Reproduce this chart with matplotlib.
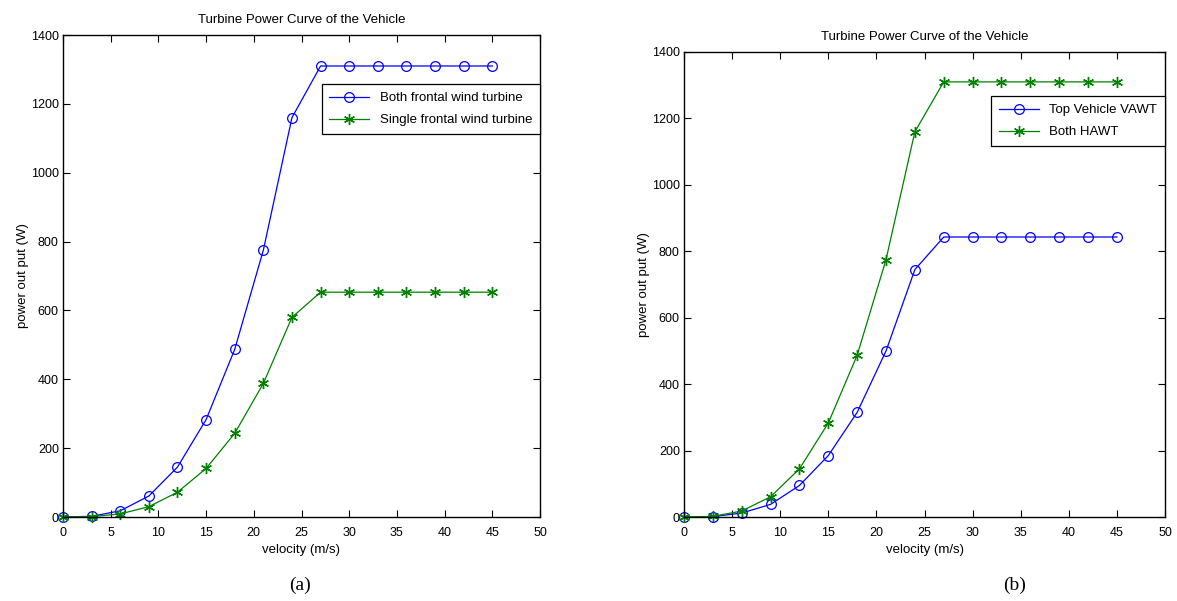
import matplotlib
matplotlib.use("Agg")
import matplotlib.pyplot as plt

velocity = [0, 3, 6, 9, 12, 15, 18, 21, 24, 27, 30, 33, 36, 39, 42, 45]
both_frontal = [0, 2, 18, 61, 145, 283, 487, 775, 1160, 1310, 1310, 1310, 1310, 1310, 1310, 1310]
single_frontal = [0, 1, 9, 30, 72, 141, 243, 388, 580, 653, 653, 653, 653, 653, 653, 653]
top_vawt = [0, 1, 12, 38, 95, 185, 315, 500, 745, 843, 843, 843, 843, 843, 843, 843]
both_hawt = [0, 2, 18, 61, 145, 283, 487, 775, 1160, 1310, 1310, 1310, 1310, 1310, 1310, 1310]

x_ticks = [0, 5, 10, 15, 20, 25, 30, 35, 40, 45, 50]
y_ticks = [0, 200, 400, 600, 800, 1000, 1200, 1400]
title = "Turbine Power Curve of the Vehicle"
xlabel = "velocity (m/s)"
ylabel = "power out put (W)"

plt.rcParams['font.family'] = ['Liberation Sans Narrow', 'Liberation Sans', 'DejaVu Sans']

BLUE = (0, 0, 1)
GREEN = (0, 0.5, 0)
ASTERISK = (6, 2, 0)

fig = plt.figure(figsize=(11.77, 6.01), dpi=100)
W, H = 1177, 601

def make_axes(left, right, top, bottom):
    return fig.add_axes([left / W, 1 - bottom / H, (right - left) / W, (bottom - top) / H])

ax1 = make_axes(63, 540, 35, 517)
ax2 = make_axes(684, 1165, 52, 517)

def style(ax):
    ax.set_xlim(0, 50)
    ax.set_ylim(0, 1400)
    ax.set_xticks(x_ticks)
    ax.set_yticks(y_ticks)
    ax.tick_params(axis='x', pad=7)
    ax.tick_params(axis='y', pad=3)
    ax.tick_params(direction='in', length=5, width=0.8, top=True, right=True,
                   labelsize=9, colors='black')
    for s in ax.spines.values():
        s.set_linewidth(1.0)
    ax.set_title(title, fontsize=9.5, pad=8.5)
    ax.set_xlabel(xlabel, fontsize=9.5, labelpad=4)
    ax.set_ylabel(ylabel, fontsize=9.5, labelpad=1)

def add_legend(ax, y):
    leg = ax.legend(loc='upper right', bbox_to_anchor=(1.0, y), borderaxespad=0,
                    fontsize=9.5, fancybox=False, edgecolor='black', framealpha=1,
                    borderpad=0.6, handlelength=3.0, labelspacing=0.75)
    leg.get_frame().set_linewidth(0.9)

ax1.plot(velocity, both_frontal, '-', marker='o', color=BLUE, lw=0.9, ms=7, mfc='none', mew=0.9,
         label='Both frontal wind turbine', clip_on=False)
ax1.plot(velocity, single_frontal, '-', marker=ASTERISK, color=GREEN, lw=0.9, ms=8, mew=1.0,
         label='Single frontal wind turbine', clip_on=False)
style(ax1)
add_legend(ax1, (517 - 84) / 482)

ax2.plot(velocity, top_vawt, '-', marker='o', color=BLUE, lw=0.9, ms=7, mfc='none', mew=0.9,
         label='Top Vehicle VAWT', clip_on=False)
ax2.plot(velocity, both_hawt, '-', marker=ASTERISK, color=GREEN, lw=0.9, ms=8, mew=1.0,
         label='Both HAWT', clip_on=False)
style(ax2)
add_legend(ax2, (517 - 96) / 465)

fig.text(300 / W, 1 - 585 / H, "(a)", family='Liberation Serif', fontsize=14,
         ha='center', va='center')
fig.text(1015 / W, 1 - 585 / H, "(b)", family='Liberation Serif', fontsize=14,
         ha='center', va='center')

fig.savefig("out.png", dpi=100)
